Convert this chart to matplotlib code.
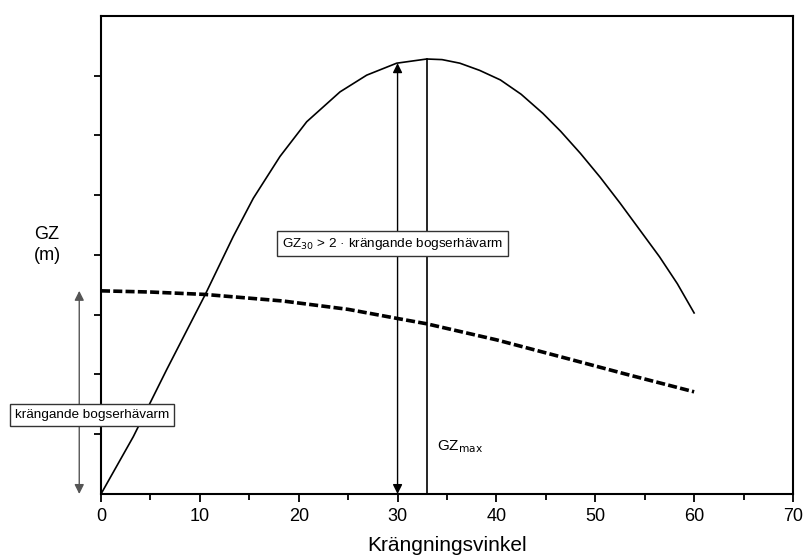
import matplotlib
matplotlib.use("Agg")
import matplotlib.pyplot as plt

plt.rcParams['font.family'] = ['Liberation Sans', 'DejaVu Sans']

# righting lever curve (GZ) vs heel angle
gz_x = [0, 3.27, 6.64, 10.52, 13.38, 15.41, 18.11, 20.81, 24.18, 26.88, 29.91,
        32.95, 34.5, 36.3, 38.3, 40.4, 42.5, 44.7, 46.5, 48.5, 50.5, 52.5,
        54.5, 56.5, 58.3, 60]
gz_y = [0, 0.96, 2.08, 3.33, 4.31, 4.95, 5.65, 6.23, 6.73, 7.01, 7.21,
        7.28, 7.27, 7.21, 7.09, 6.93, 6.69, 6.37, 6.07, 5.70, 5.30, 4.87,
        4.42, 3.97, 3.52, 3.03]

# heeling arm from towing (dashed)
arm_x = [0, 5, 10.5, 18.4, 25, 29.9, 32.9, 40, 47.1, 53, 60]
arm_y = [3.40, 3.38, 3.34, 3.23, 3.09, 2.94, 2.85, 2.58, 2.27, 2.01, 1.71]

gz30_x, gz30_y = 30, 7.21
gzmax_x, gzmax_y = 33, 7.28
arm0_x, arm0_y = -2.2, 3.40

xticks = [0, 10, 20, 30, 40, 50, 60, 70]

fig = plt.figure(figsize=(8.08, 5.59), dpi=100)
ax = fig.add_axes([0.125, 0.1163, 0.8564, 0.8551])

ax.plot(gz_x, gz_y, color='black', lw=1.2, solid_joinstyle='round')
ax.plot(arm_x, arm_y, color='black', lw=2.6, linestyle=(0, (2.5, 0.9)))

# GZmax vertical line
ax.plot([gzmax_x, gzmax_x], [0, gzmax_y], color='black', lw=1.2)

# double arrow at 30 degrees
ax.annotate('', xy=(gz30_x, gz30_y), xytext=(gz30_x, 0),
            arrowprops=dict(arrowstyle='<|-|>', color='black', lw=1.0,
                            mutation_scale=14, shrinkA=0, shrinkB=0))

# heeling arm arrow left of axis
ax.annotate('', xy=(arm0_x, arm0_y), xytext=(arm0_x, 0),
            arrowprops=dict(arrowstyle='<|-|>', color='#555555', lw=1.0,
                            mutation_scale=14, shrinkA=0, shrinkB=0),
            annotation_clip=False)

box = dict(boxstyle='square,pad=0.35', facecolor='white', edgecolor='#333333', lw=1.0)
ax.text(0.018, 0.2576, 'krängande bogserhävarm', transform=fig.transFigure,
        fontsize=9.7, va='center', ha='left', bbox=box, zorder=5)
ax.text(0.349, 0.5644, 'GZ$_{30}$ > 2 · krängande bogserhävarm', transform=fig.transFigure,
        fontsize=9.7, va='center', ha='left', bbox=box, zorder=5)

ax.text(34.0, 0.80, 'GZ$_{\\mathrm{max}}$', fontsize=11, va='center', ha='left')

fig.text(0.042, 0.562, 'GZ\n(m)', fontsize=13, ha='left', va='center', linespacing=1.35)

ax.set_xlim(0, 70)
ax.set_ylim(0, 8)
ax.set_xticks(xticks)
ax.set_xticks([5, 15, 25, 35, 45, 55, 65], minor=True)
ax.set_yticks([1, 2, 3, 4, 5, 6, 7])
ax.set_yticklabels([])
ax.tick_params(axis='x', direction='out', length=6, width=1.3, labelsize=13, pad=4)
ax.tick_params(axis='x', which='minor', direction='out', length=4, width=1.3)
ax.tick_params(axis='y', direction='out', length=5, width=1.3)
ax.tick_params(top=False, right=False)
for s in ax.spines.values():
    s.set_linewidth(1.5)

ax.set_xlabel('Krängningsvinkel', fontsize=15, labelpad=8)

fig.savefig('out.png', dpi=100)
